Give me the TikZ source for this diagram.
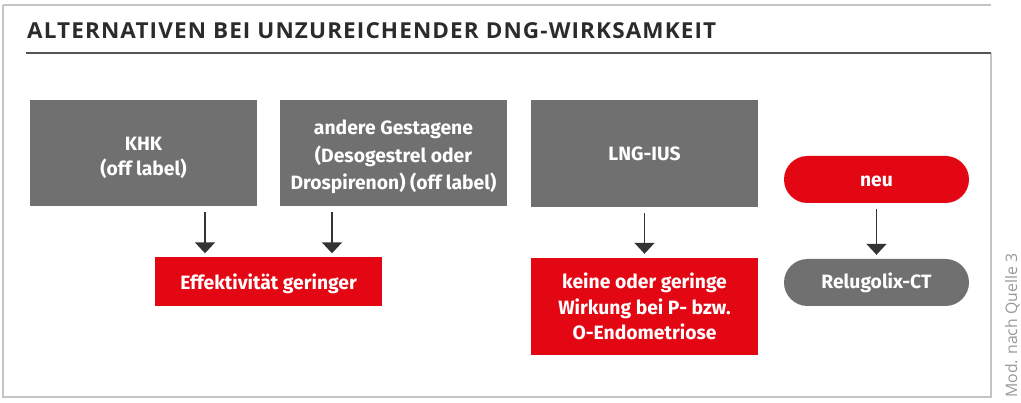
\documentclass[tikz,border=0pt]{standalone}
\usepackage{fontspec}
\setmainfont{Fira Sans}
\newfontfamily\titlefont{Open Sans}[LetterSpace=5]
\newfontfamily\notefont{Open Sans}
\usetikzlibrary{arrows.meta,calc}
\definecolor{boxgray}{HTML}{717070}
\definecolor{boxred}{HTML}{E30613}
\definecolor{framegray}{HTML}{C4C4C4}
\definecolor{titlegray}{HTML}{2B2B2B}
\definecolor{arrowgray}{HTML}{333333}
\definecolor{notegray}{HTML}{999999}
\newlength\titlew
\newcommand\titletext{ALTERNATIVEN BEI UNZUREICHENDER DNG-WIRKSAMKEIT}
\newcommand\shiftdown[2]{\raisebox{-#1}[\height][\depth]{#2}}
\begin{document}
\settowidth{\titlew}{\titlefont\fontsize{22}{24}\selectfont\bfseries\titletext}%
\pgfmathsetmacro\titlesx{689/\titlew}%
\begin{tikzpicture}[x=1pt,y=-1pt,
  box/.style={inner sep=0pt,minimum width=227pt,align=center,text=white,
    font=\fontsize{19.3}{25.5}\selectfont\bfseries},
  graybox/.style={box,fill=boxgray},
  redbox/.style={box,fill=boxred},
  pill/.style={box,minimum width=185pt,minimum height=47pt,rounded corners=23.5pt},
  arr/.style={draw=arrowgray,line width=1.8pt,-{Triangle[width=20pt,length=11pt]},
    shorten <=6pt,shorten >=4pt}]
\useasboundingbox (0,0) rectangle (1021,403);
% frame
\draw[framegray,line width=2.5pt] (3,5) -- (991,5);
\draw[framegray,line width=1.5pt] (3,5) -- (3,397) -- (991,397) -- (991,53);
\draw[titlegray!80,line width=1.3pt] (26,53) -- (991,53);
\node[anchor=base west,inner sep=0pt,text=titlegray,xscale=\titlesx,transform shape,
  font=\titlefont\fontsize{22}{24}\selectfont\bfseries] (title) at (27,38.5) {\titletext};
\node[rotate=90,anchor=base west,inner sep=0pt,text=notegray,font=\notefont\fontsize{15.8}{17}\selectfont] (note) at (1017,398) {Mod. nach Quelle 3};
% boxes
\node[graybox,minimum height=106pt] (khk) at (143.5,153) {\shiftdown{5pt}{\parbox{220pt}{\centering KHK\\(off label)}}};
\node[graybox,minimum height=106pt] (gest) at (393.5,153) {\shiftdown{4pt}{\parbox{220pt}{\centering\baselineskip=27.5pt andere Gestagene\\(Desogestrel oder\\Drospirenon) (off label)\par}}};
\node[graybox,minimum height=107pt] (lng) at (644.5,153.5) {LNG-IUS};
\node[redbox,minimum height=49pt] (eff) at (268.5,282) {\shiftdown{1.5pt}{Effektivität geringer}};
\node[redbox,minimum height=97pt] (keine) at (644.5,306.5) {keine oder geringe\\Wirkung bei P- bzw.\\O-Endometriose};
\node[pill,fill=boxred] (neu) at (876.5,179.5) {\shiftdown{1.5pt}{neu}};
\node[pill,fill=boxgray] (rel) at (876.5,282.5) {Relugolix-CT};
% arrows
\coordinate (c1) at (205,0);
\coordinate (c2) at (332,0);
\draw[arr] (khk.south -| c1) -- (eff.north -| c1);
\draw[arr] (gest.south -| c2) -- (eff.north -| c2);
\draw[arr] (lng.south) -- (keine.north);
\draw[arr] (neu.south) -- (rel.north);
\end{tikzpicture}
\end{document}
